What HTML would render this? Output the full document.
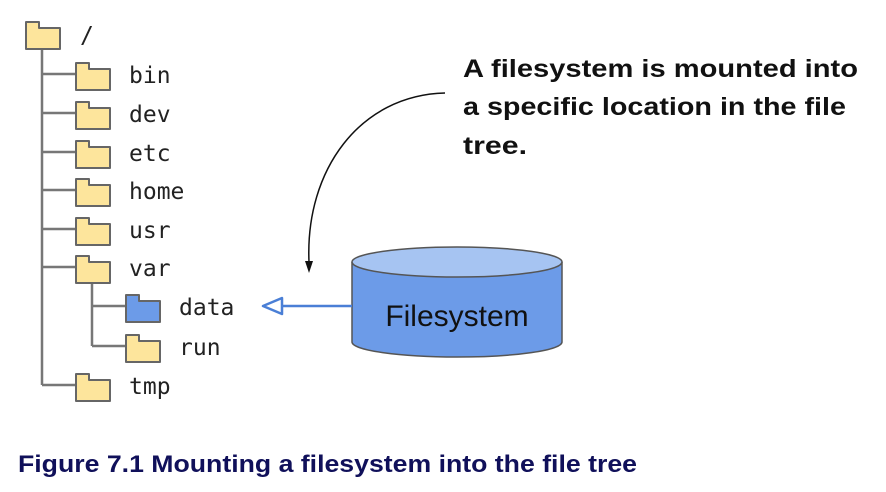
<!DOCTYPE html>
<html><head><meta charset="utf-8"><style>
html,body{margin:0;padding:0;background:#fff;}
svg{display:block;}
.m{font-family:"DejaVu Sans Mono","Liberation Mono",monospace;font-size:23px;fill:#222;}
</style></head><body>
<svg width="886" height="492" viewBox="0 0 886 492" xmlns="http://www.w3.org/2000/svg">
<defs>
<g id="f"><path d="M0,27 V0 H13 V6 H34 V27 Z" stroke="#666" stroke-width="2" stroke-linejoin="round"/></g>
</defs>
<g stroke="#777" stroke-width="2.5" fill="none">
<line x1="42" y1="48" x2="42" y2="385"/>
<line x1="42" y1="74" x2="76" y2="74"/>
<line x1="42" y1="113" x2="76" y2="113"/>
<line x1="42" y1="152" x2="76" y2="152"/>
<line x1="42" y1="190" x2="76" y2="190"/>
<line x1="42" y1="229" x2="76" y2="229"/>
<line x1="42" y1="267" x2="76" y2="267"/>
<line x1="42" y1="385" x2="76" y2="385"/>
<line x1="92" y1="282" x2="92" y2="346"/>
<line x1="92" y1="306" x2="126" y2="306"/>
<line x1="92" y1="346" x2="126" y2="346"/>
</g>
<g fill="#fde59c">
<use href="#f" x="26" y="22"/>
<use href="#f" x="76" y="63"/>
<use href="#f" x="76" y="102"/>
<use href="#f" x="76" y="141"/>
<use href="#f" x="76" y="179"/>
<use href="#f" x="76" y="218"/>
<use href="#f" x="76" y="256"/>
<use href="#f" x="126" y="335"/>
<use href="#f" x="76" y="374"/>
</g>
<use href="#f" x="126" y="295" fill="#6c9be8"/>
<text class="m" x="80" y="43">/</text>
<text class="m" x="129" y="83">bin</text>
<text class="m" x="129" y="122">dev</text>
<text class="m" x="129" y="161">etc</text>
<text class="m" x="129" y="199">home</text>
<text class="m" x="129" y="238">usr</text>
<text class="m" x="129" y="276">var</text>
<text class="m" x="179" y="315">data</text>
<text class="m" x="179" y="355">run</text>
<text class="m" x="129" y="394">tmp</text>
<path d="M352,262 V342 A105,15 0 0 0 562,342 V262" fill="#6c9be8" stroke="#555" stroke-width="1.5"/>
<ellipse cx="457" cy="262" rx="105" ry="15" fill="#a6c4f2" stroke="#555" stroke-width="1.5"/>
<text x="457" y="326" text-anchor="middle" font-family="Liberation Sans,Arial,sans-serif" font-size="30" fill="#111">Filesystem</text>
<line x1="352" y1="306" x2="280" y2="306" stroke="#4a7fd6" stroke-width="2.5"/>
<path d="M263,306 L282,298 L282,314 Z" fill="#fff" stroke="#4a7fd6" stroke-width="2.5" stroke-linejoin="round"/>
<path d="M445,93 C360,95 305,170 309,262" fill="none" stroke="#111" stroke-width="1.5"/>
<path d="M305,261 L313,261 L309,273 Z" fill="#111"/>
<g font-family="Liberation Sans,Arial,sans-serif" font-weight="bold" font-size="25" fill="#111">
<text x="463" y="77" textLength="395" lengthAdjust="spacingAndGlyphs">A filesystem is mounted into</text>
<text x="463" y="115" textLength="383" lengthAdjust="spacingAndGlyphs">a specific location in the file</text>
<text x="463" y="154" textLength="64" lengthAdjust="spacingAndGlyphs">tree.</text>
</g>
<text x="18" y="472" font-family="Liberation Sans Narrow,Liberation Sans,Arial,sans-serif" font-weight="bold" font-size="24" fill="#10105a" textLength="619" lengthAdjust="spacingAndGlyphs">Figure 7.1 Mounting a filesystem into the file tree</text>
</svg>
</body></html>
